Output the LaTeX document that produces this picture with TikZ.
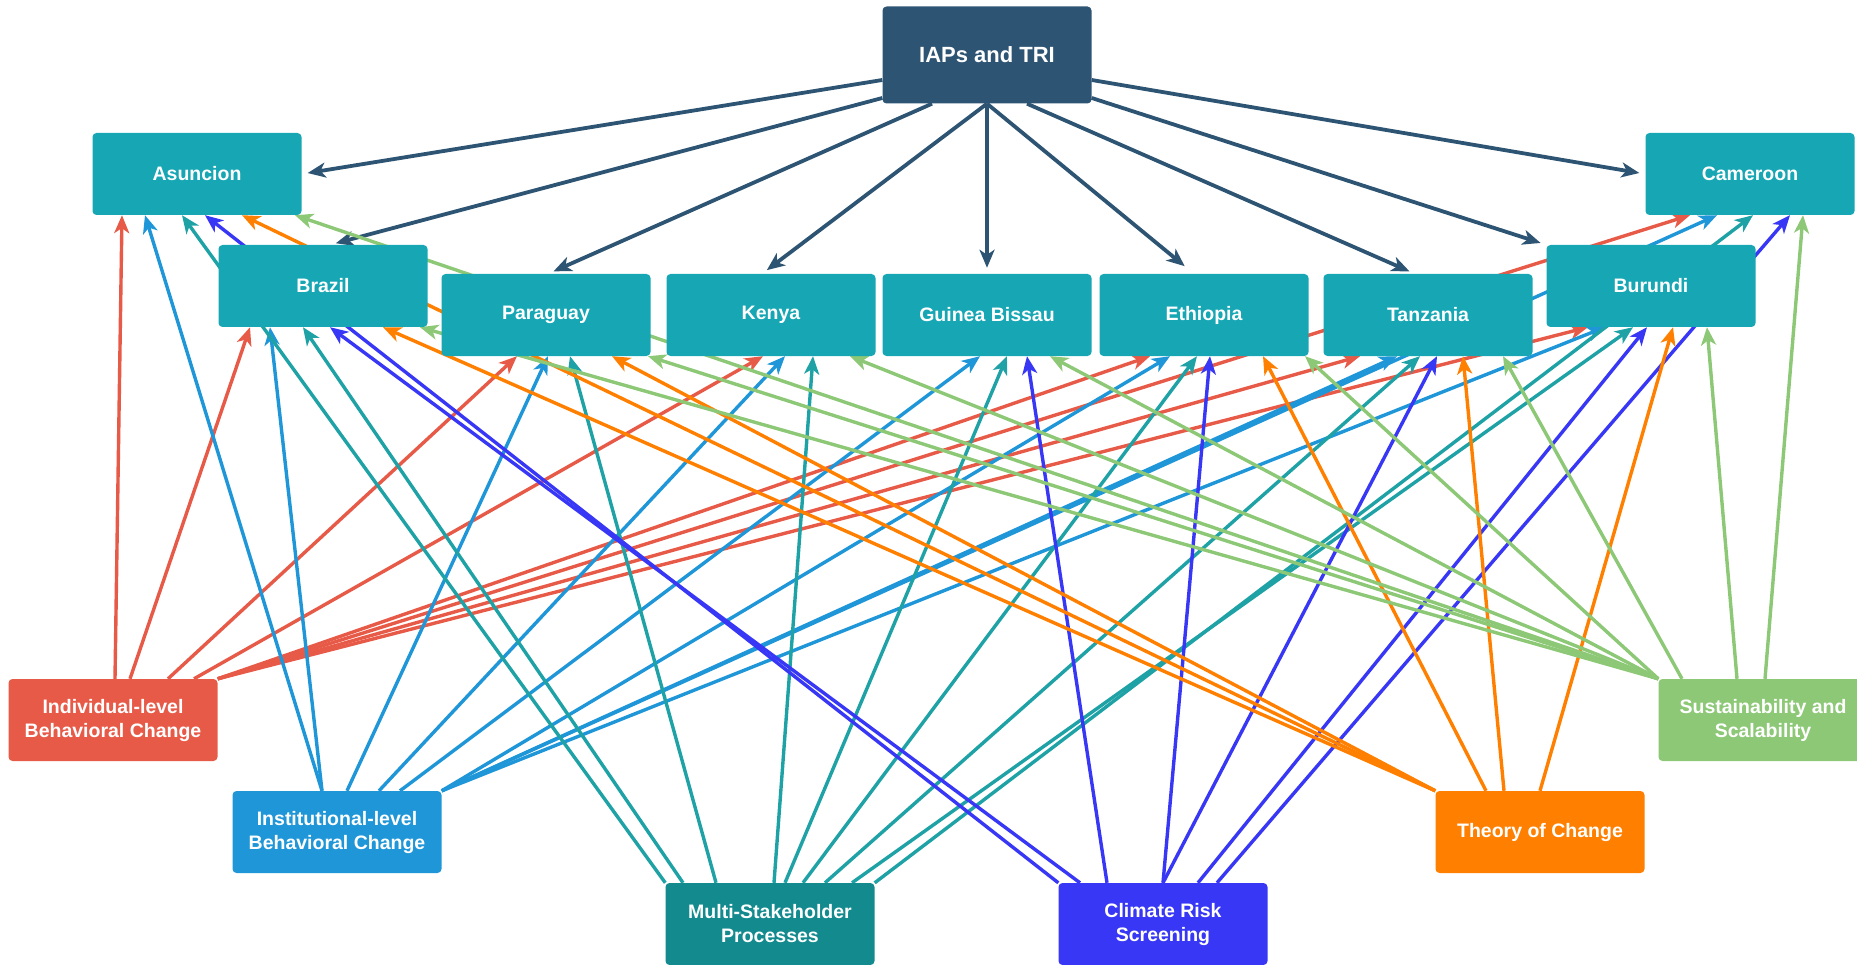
\documentclass[tikz,border=0pt]{standalone}
\usepackage{fontspec}
\setmainfont{Liberation Sans}
\usetikzlibrary{arrows.meta}
\definecolor{cIap}{RGB}{46,84,115}
\definecolor{cCty}{RGB}{22,166,180}
\definecolor{cInd}{RGB}{232,90,72}
\definecolor{cInst}{RGB}{30,150,215}
\definecolor{cMsp}{RGB}{18,138,142}
\definecolor{cMspLn}{RGB}{30,162,166}
\definecolor{cCrs}{RGB}{55,55,245}
\definecolor{cToc}{RGB}{255,128,0}
\definecolor{cSus}{RGB}{140,200,118}
\pgfdeclarelayer{edges}
\pgfsetlayers{edges,main}

\begin{document}
\begin{tikzpicture}[x=1pt,y=-1pt,
   cbox/.style={rectangle,rounded corners=4pt,minimum width=209pt,minimum height=82pt,
     inner sep=0pt,align=center,text=white,font=\bfseries\fontsize{19.5}{24}\selectfont},
   conn/.style={line width=3.4pt,-{Stealth[length=18pt,width=15pt,inset=5pt]}},
   iapln/.style={conn,cIap,line width=3.8pt,shorten >=6pt}]
   \useasboundingbox (0,0) rectangle (1857,965);
   % top node and the nine countries
   \node[cbox,fill=cIap,minimum height=97pt,font=\bfseries\fontsize{22}{26}\selectfont]
     (iap) at (987,55) {IAPs and TRI};
   \node[cbox,fill=cCty] (asu) at (197,174) {Asuncion};
   \node[cbox,fill=cCty] (cam) at (1750,174) {Cameroon};
   \node[cbox,fill=cCty] (bra) at (323,286) {Brazil};
   \node[cbox,fill=cCty] (bur) at (1651,286) {Burundi};
   \node[cbox,fill=cCty] (par) at (546,315) {Paraguay};
   \node[cbox,fill=cCty] (ken) at (771,315) {Kenya};
   \node[cbox,fill=cCty] (gb) at (987,315) {Guinea Bissau};
   \node[cbox,fill=cCty] (eth) at (1204,315) {Ethiopia};
   \node[cbox,fill=cCty] (tan) at (1428,315) {Tanzania};
   % the six themes
   \node[cbox,fill=cInd] (ind) at (113,720) {Individual-level\\Behavioral Change};
   \node[cbox,fill=cInst] (inst) at (337,832) {Institutional-level\\Behavioral Change};
   \node[cbox,fill=cMsp] (msp) at (770,924) {Multi-Stakeholder\\Processes};
   \node[cbox,fill=cCrs] (crs) at (1163,924) {Climate Risk\\Screening};
   \node[cbox,fill=cToc] (toc) at (1540,832) {Theory of Change};
   \node[cbox,fill=cSus] (sus) at (1763,720) {Sustainability and\\Scalability};

   \begin{pgfonlayer}{edges}
    % IAPs and TRI
    \draw[iapln] ([yshift=-25]iap.west) -- (asu.east);
    \draw[iapln] ([yshift=-43]iap.west) -- ([xshift=7]bra.north);
    \draw[iapln] ([xshift=-55]iap.south) -- ([xshift=2]par.north);
    \draw[iapln] (iap.south) -- ([xshift=-9]ken.north);
    \draw[iapln] (iap.south) -- (gb.north);
    \draw[iapln,shorten >=12pt] (iap.south) -- ([xshift=-10]eth.north);
    \draw[iapln] ([xshift=40]iap.south) -- ([xshift=-13]tan.north);
    \draw[iapln] ([yshift=-43]iap.east) -- (bur.north west);
    \draw[iapln] ([yshift=-25]iap.east) -- (cam.west);
    % individual-level
    \foreach \a/\t/\b in {2/asu/-75,17/bra/-73,55/par/-29,81/ken/-8}
      \draw[conn,cInd] ([xshift=\a]ind.north) -- ([xshift=\b]\t.south);
    \foreach \t/\b in {eth/-54,tan/-68,bur/-63,cam/-60}
      \draw[conn,cInd] (ind.north east) -- ([xshift=\b]\t.south);
    % institutional-level
    \foreach \a/\t/\b in {-15/asu/-52,-15/bra/-53,10/par/2,42/ken/14,63/gb/-7}
      \draw[conn,cInst] ([xshift=\a]inst.north) -- ([xshift=\b]\t.south);
    \foreach \t/\b in {eth/-34,tan/-31,bur/-46,cam/-33}
      \draw[conn,cInst] (inst.north east) -- ([xshift=\b]\t.south);
    % multi-stakeholder
    \draw[conn,cMspLn] (msp.north west) -- ([xshift=-15]asu.south);
    \foreach \a/\t/\b in {-87/bra/-20,-54/par/24,4/ken/42,15/gb/20,33/eth/-7,55/tan/-8,82/bur/-18}
      \draw[conn,cMspLn] ([xshift=\a]msp.north) -- ([xshift=\b]\t.south);
    \draw[conn,cMspLn] (msp.north east) -- ([xshift=3]cam.south);
    % climate risk screening
    \draw[conn,cCrs] (crs.north west) -- ([xshift=8]asu.south);
    \foreach \a/\t/\b in {-83/bra/7,-56/gb/40,0/eth/6,0/tan/9,35/bur/-4,54/cam/40}
      \draw[conn,cCrs] ([xshift=\a]crs.north) -- ([xshift=\b]\t.south);
    % theory of change
    \foreach \t/\b in {asu/45,bra/60,par/66}
      \draw[conn,cToc] (toc.north west) -- ([xshift=\b]\t.south);
    \foreach \a/\t/\b in {-54/eth/59,-36/tan/35,0/bur/22}
      \draw[conn,cToc] ([xshift=\a]toc.north) -- ([xshift=\b]\t.south);
    % sustainability and scalability
    \foreach \t/\b in {asu/98,bra/97,par/102,ken/79,gb/63,eth/101}
      \draw[conn,cSus] (sus.north west) -- ([xshift=\b]\t.south);
    \foreach \a/\t/\b in {-81/tan/75,-26/bur/56,2/cam/53}
      \draw[conn,cSus] ([xshift=\a]sus.north) -- ([xshift=\b]\t.south);
   \end{pgfonlayer}
\end{tikzpicture}
\end{document}
